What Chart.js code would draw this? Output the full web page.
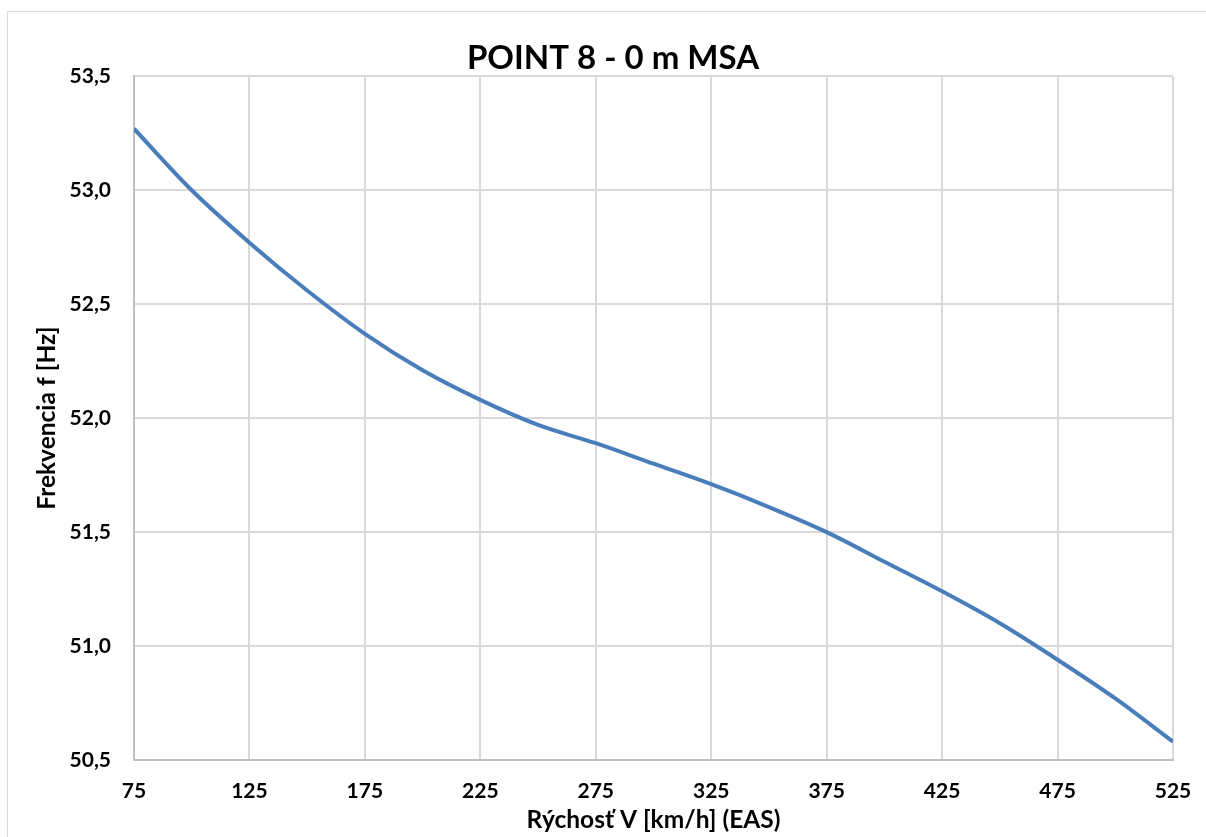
<!DOCTYPE html>
<html>
<head>
<meta charset="utf-8">
<script src="https://cdn.jsdelivr.net/npm/chart.js@4/dist/chart.umd.min.js"></script>
<style>
  html, body { margin: 0; padding: 0; background: #ffffff; overflow: hidden; width: 1206px; height: 837px; }
  #frame { position: absolute; left: 7px; top: 11px; width: 1210px; height: 840px; border: 1px solid #d9d9d9; box-sizing: border-box; background: #fff; }
  #chart { position: absolute; left: 0; top: 0; }
</style>
</head>
<body>
<div id="frame"><canvas id="chart" width="1210" height="840"></canvas></div>
<script>
// Speed (EAS) in km/h and the corresponding frequency in Hz
const speeds = [75, 100, 125, 150, 175, 200, 225, 250, 275, 300, 325, 350, 375, 400, 425, 450, 475, 500, 525];
const frequencies = [53.27, 53.00, 52.77, 52.56, 52.37, 52.21, 52.08, 51.97, 51.89, 51.80, 51.71, 51.61, 51.50, 51.37, 51.24, 51.10, 50.94, 50.77, 50.58];

const xTicks = [75, 125, 175, 225, 275, 325, 375, 425, 475, 525];
const yTicks = [50.5, 51.0, 51.5, 52.0, 52.5, 53.0, 53.5];

const chartTitle = 'POINT 8 - 0 m MSA';
const xTitle = 'Rýchosť V [km/h] (EAS)';
const yTitle = 'Frekvencia f [Hz]';

const FONT = 'Lato, "Open Sans", sans-serif';

const points = speeds.map((v, i) => ({ x: v, y: frequencies[i] }));

new Chart(document.getElementById('chart'), {
  type: 'line',
  data: {
    datasets: [{
      data: points,
      borderColor: '#4a7ebb',
      borderWidth: 4,
      pointRadius: 0,
      cubicInterpolationMode: 'monotone',
      fill: false
    }]
  },
  options: {
    responsive: false,
    animation: false,
    // equal side padding keeps the title centred on the whole frame
    layout: { padding: { left: 45, right: 45, top: 0, bottom: 0 } },
    plugins: {
      legend: { display: false },
      tooltip: { enabled: false },
      title: {
        display: true,
        text: chartTitle,
        color: '#000000',
        font: { family: FONT, size: 33, weight: 'bold', lineHeight: 1.1 },
        padding: { top: 28, bottom: 0 }
      }
    },
    scales: {
      x: {
        type: 'linear',
        min: 75,
        max: 525,
        afterBuildTicks: s => { s.ticks = xTicks.map(v => ({ value: v })); },
        afterFit: s => { s.height = 92; },
        ticks: {
          color: '#000000',
          padding: 19,
          maxRotation: 0,
          font: { family: FONT, size: 21, weight: 'bold' },
          callback: v => String(v)
        },
        grid: { color: '#d9d9d9', lineWidth: 2, drawTicks: false },
        border: { color: '#bfbfbf', width: 2 },
        title: {
          display: true,
          text: xTitle,
          color: '#000000',
          font: { family: FONT, size: 24.5, weight: 'bold', lineHeight: 1.2 },
          padding: { top: 0, bottom: 17 }
        }
      },
      y: {
        type: 'linear',
        min: 50.5,
        max: 53.5,
        afterBuildTicks: s => { s.ticks = yTicks.map(v => ({ value: v })); },
        afterFit: s => { s.width = 81; },
        ticks: {
          color: '#000000',
          padding: 23,
          font: { family: FONT, size: 21, weight: 'bold' },
          callback: v => Number(v).toFixed(1).replace('.', ',')
        },
        grid: { color: '#d9d9d9', lineWidth: 2, drawTicks: false },
        border: { color: '#bfbfbf', width: 2 },
        title: {
          display: true,
          text: yTitle,
          color: '#000000',
          font: { family: FONT, size: 24.5, weight: 'bold', lineHeight: 1.2 },
          padding: { top: -21, bottom: 0 }
        }
      }
    }
  }
});
</script>
</body>
</html>
